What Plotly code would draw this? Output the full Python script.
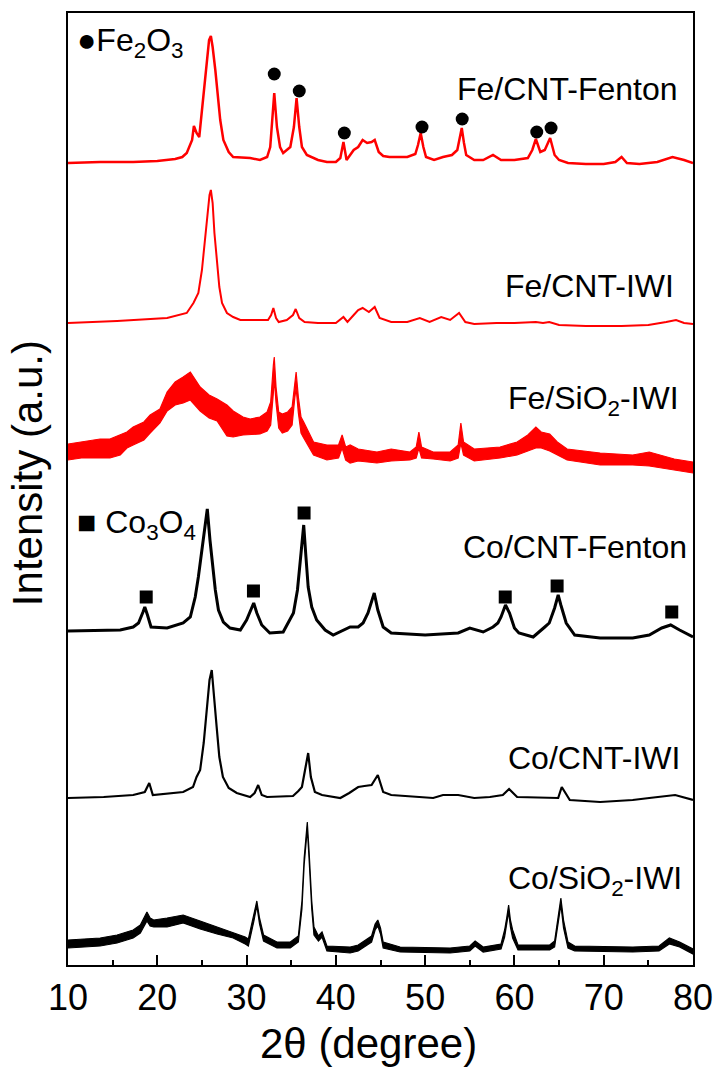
import plotly.graph_objects as go

# ---------------- data (2theta in degree, intensity in a.u., stacked with offsets) -------------
fe_cnt_fenton_x = [10, 13.6, 17.3, 20, 22, 22.8, 23.3, 23.9, 24.1, 24.4, 24.7, 25.0, 25.25, 25.55, 25.8, 26.0, 26.2, 26.5, 26.75, 27.05, 27.4, 28.0, 28.5, 30.4, 31.5, 32.3, 32.65, 32.9, 33.1, 33.4, 33.75, 34.1, 34.9, 35.3, 35.6, 35.9, 36.2, 36.75, 37.5, 38, 39, 40, 40.5, 40.85, 41.2, 41.6, 42, 42.5, 43.0, 43.5, 44.0, 44.35, 44.8, 45.3, 46, 47, 48, 48.9, 49.2, 49.5, 49.8, 50.1, 51, 52, 53, 53.6, 53.85, 54.1, 54.35, 54.6, 55.5, 56.5, 57.6, 58.5, 60, 61.5, 62.0, 62.4, 62.9, 63.4, 64.0, 64.5, 65, 66, 68, 70, 71.3, 72.0, 72.6, 74, 76, 77.7, 79, 80]
fe_cnt_fenton_y = [802, 803, 803, 804, 806, 808, 812, 825, 839, 832, 828, 855, 882, 908, 925, 929, 918, 895, 872, 845, 825, 813, 808, 807, 805, 808, 818, 848, 872, 838, 818, 812, 818, 838, 867, 838, 818, 810, 807, 805, 803, 803, 807, 823, 805, 810, 815, 818, 825, 822, 823, 825, 813, 809, 808, 808, 808, 811, 820, 832, 818, 808, 805, 808, 810, 815, 825, 837, 822, 810, 805, 805, 810, 805, 805, 807, 815, 826, 813, 815, 827, 810, 805, 802, 801, 801, 803, 808, 802, 801, 803, 808, 805, 802]

fe_cnt_iwi_x = [10, 15.5, 21.1, 23.3, 24.05, 24.6, 25.0, 25.35, 25.6, 25.85, 26.0, 26.2, 26.4, 26.7, 26.95, 27.25, 27.8, 28.5, 29.3, 32.4, 32.75, 33.0, 33.3, 33.6, 34.5, 35.2, 35.5, 35.9, 36.5, 38, 40, 40.85, 41.3, 42, 42.5, 43, 43.7, 44.35, 44.9, 46.2, 48, 49.4, 50.5, 51.8, 52.8, 53.8, 54.5, 55.5, 58, 60, 62.4, 63.2, 63.9, 65, 68, 72, 75, 77, 78.1, 79, 80]
fe_cnt_iwi_y = [642, 644, 647, 652, 662, 672, 695, 725, 752, 770, 775, 762, 732, 702, 678, 662, 652, 648, 645, 645, 650, 657, 647, 643, 645, 650, 656, 647, 643, 642, 642, 648, 643, 650, 655, 657, 653, 658, 647, 643, 643, 647, 643, 648, 645, 652, 643, 641, 642, 642, 643, 642, 643, 640, 639, 639, 640, 643, 645, 642, 641]

fe_sio2_iwi_x = [10, 11.5, 13.6, 14.7, 15.85, 16.6, 17.3, 18.5, 19.2, 20.3, 21.1, 22.0, 22.9, 23.7, 24.8, 25.8, 26.7, 27.8, 28.5, 29.6, 30.4, 31.5, 32.3, 32.7, 33.0, 33.1, 33.3, 33.6, 34.0, 34.6, 35.1, 35.4, 35.55, 35.8, 36.1, 36.4, 37.5, 39.0, 40.3, 40.7, 41.1, 41.6, 42.5, 44.6, 46.2, 48.3, 49.0, 49.3, 49.6, 50.9, 52.8, 53.7, 54.0, 54.3, 55.5, 58.4, 60.3, 61.5, 62.4, 63.0, 63.95, 64.8, 65.9, 69.6, 73.25, 75.1, 77.9, 80]
fe_sio2_iwi_upper = [521, 523, 526, 526, 530, 533, 538, 543, 550, 556, 573, 583, 588, 593, 578, 570, 566, 560, 554, 548, 546, 548, 553, 563, 600, 608, 578, 553, 551, 553, 558, 585, 593, 568, 548, 543, 523, 520, 520, 530, 518, 520, 516, 513, 516, 513, 518, 533, 518, 513, 513, 520, 542, 523, 516, 518, 523, 530, 538, 533, 531, 523, 516, 512, 510, 513, 506, 503]
fe_sio2_iwi_lower = [505, 507, 507, 507, 510, 517, 520, 525, 532, 542, 554, 560, 562, 565, 554, 547, 544, 529, 528, 530, 530, 531, 534, 540, 572, 587, 562, 537, 532, 534, 540, 567, 577, 552, 532, 527, 510, 505, 507, 517, 505, 502, 504, 502, 504, 505, 507, 517, 507, 506, 504, 507, 522, 510, 504, 507, 510, 514, 517, 517, 514, 510, 505, 500, 500, 499, 495, 492]

co_cnt_fenton_x = [10, 14, 15.85, 17.3, 17.9, 18.4, 18.6, 18.9, 19.3, 21.1, 22.9, 23.7, 24.25, 24.6, 25.0, 25.3, 25.6, 25.9, 26.2, 26.5, 26.85, 27.4, 28.15, 29.3, 30.0, 30.5, 30.8, 31.15, 31.7, 32.6, 34.1, 35.25, 35.7, 36.1, 36.4, 36.65, 36.9, 37.3, 37.85, 38.8, 39.7, 41.6, 42.5, 43.05, 43.6, 44.3, 44.7, 45.3, 46.2, 50, 53.7, 55, 56.5, 57.6, 58.15, 58.5, 59.0, 59.45, 60.0, 60.5, 62.1, 63.4, 63.9, 64.5, 64.9, 65.2, 65.8, 66.75, 69.6, 73.25, 75.1, 76.5, 77.5, 78.5, 80]
co_cnt_fenton_y = [334, 335, 335, 338, 342, 353, 358, 350, 338, 337, 342, 348, 368, 388, 415, 438, 456, 425, 398, 375, 355, 343, 337, 335, 345, 355, 362, 352, 340, 332, 333, 352, 375, 412, 440, 408, 378, 358, 345, 335, 330, 338, 338, 342, 352, 372, 355, 338, 332, 330, 332, 337, 333, 338, 342, 348, 360, 352, 337, 332, 328, 338, 342, 357, 370, 360, 342, 330, 327, 327, 330, 337, 340, 335, 328]

co_cnt_iwi_x = [10, 14, 17.3, 18.6, 19.1, 19.5, 22.9, 24.0, 24.4, 24.8, 25.2, 25.55, 25.85, 26.1, 26.35, 26.65, 26.95, 27.35, 28.0, 28.9, 30.4, 30.9, 31.3, 31.7, 32.3, 35.2, 35.8, 36.2, 36.55, 36.9, 37.2, 37.65, 38.45, 40.5, 41.5, 42.5, 43.2, 44.0, 44.7, 45.3, 46.2, 50.9, 52.0, 53.7, 55.5, 57.25, 58.7, 59.4, 60.3, 64.9, 65.3, 66.2, 69.6, 73.25, 75.1, 78.0, 80]
co_cnt_iwi_y = [167, 168, 170, 173, 182, 170, 173, 178, 188, 195, 222, 258, 285, 295, 272, 238, 208, 188, 177, 172, 168, 172, 180, 170, 168, 169, 174, 178, 195, 212, 188, 173, 170, 167, 172, 178, 179, 180, 190, 173, 170, 167, 170, 170, 167, 168, 170, 176, 168, 167, 178, 165, 163, 165, 167, 170, 165]

co_sio2_iwi_x = [10, 13.6, 15.5, 17.3, 18.1, 18.5, 18.84, 19.2, 19.6, 21.1, 22.9, 24.8, 26.7, 28.5, 29.85, 30.2, 30.8, 31.15, 31.45, 31.9, 33.4, 34.9, 35.8, 36.2, 36.45, 36.8, 37.0, 37.3, 37.55, 38.05, 38.45, 39.0, 41.6, 42.5, 44.0, 44.4, 44.7, 45.0, 45.3, 47.2, 52.8, 55.0, 55.6, 56.5, 58.5, 58.9, 59.15, 59.35, 59.55, 59.8, 60.4, 63.95, 64.5, 64.85, 65.2, 65.5, 66.0, 66.75, 73.25, 76.2, 77.35, 78.5, 80]
co_sio2_iwi_upper = [25, 27, 30, 35, 40, 47, 53, 47, 45, 47, 50, 44, 38, 33, 28, 26, 49, 64, 47, 30, 23, 23, 29, 64, 107, 143, 114, 64, 38, 29, 33, 19, 18, 20, 29, 41, 45, 37, 23, 18, 17, 19, 24, 18, 21, 35, 48, 60, 45, 35, 20, 20, 24, 48, 67, 45, 23, 19, 18, 19, 27, 23, 16]
co_sio2_iwi_lower = [17, 19, 22, 27, 32, 39, 44, 39, 38, 38, 42, 36, 31, 27, 21, 19, 43, 59, 41, 24, 17, 17, 23, 56, 100, 136, 106, 56, 30, 24, 28, 14, 12, 14, 23, 35, 39, 31, 17, 13, 12, 14, 19, 13, 16, 28, 40, 53, 38, 27, 15, 15, 18, 40, 60, 37, 17, 14, 13, 14, 21, 18, 11]

fe2o3_peak_x = [33.1, 35.9, 40.95, 49.65, 54.15, 62.5, 64.1]
fe2o3_mark_y = [891, 874, 832, 838, 846, 833, 837]
co3o4_peak_x = [18.76, 30.77, 36.44, 58.97, 64.78, 77.62]
co3o4_mark_y = [368, 374, 452, 368, 379, 353]

sample_labels = ["Fe/CNT-Fenton", "Fe/CNT-IWI", "Fe/SiO<sub>2</sub>-IWI",
                 "Co/CNT-Fenton", "Co/CNT-IWI", "Co/SiO<sub>2</sub>-IWI"]

x_ticks = [10, 20, 30, 40, 50, 60, 70, 80]

RED = "#ff0000"
BLACK = "#000000"
FONT = "Arial, Liberation Sans, sans-serif"

fig = go.Figure()


def line(x, y, color, w=2.0):
    fig.add_trace(go.Scatter(x=x, y=y, mode="lines", line=dict(color=color, width=w),
                             showlegend=False, hoverinfo="skip"))


def band(x, upper, lower, color):
    fig.add_trace(go.Scatter(x=x + x[::-1], y=upper + lower[::-1], mode="lines",
                             fill="toself", fillcolor=color,
                             line=dict(color=color, width=1.2),
                             showlegend=False, hoverinfo="skip"))


line(fe_cnt_fenton_x, fe_cnt_fenton_y, RED, 2.5)
line(fe_cnt_iwi_x, fe_cnt_iwi_y, RED, 2.0)
band(fe_sio2_iwi_x, fe_sio2_iwi_upper, fe_sio2_iwi_lower, RED)
line(co_cnt_fenton_x, co_cnt_fenton_y, BLACK, 3.0)
line(co_cnt_iwi_x, co_cnt_iwi_y, BLACK, 2.2)
band(co_sio2_iwi_x, co_sio2_iwi_upper, co_sio2_iwi_lower, BLACK)

fig.add_trace(go.Scatter(x=fe2o3_peak_x, y=fe2o3_mark_y, mode="markers",
                         marker=dict(symbol="circle", size=13, color=BLACK),
                         showlegend=False, hoverinfo="skip"))
fig.add_trace(go.Scatter(x=co3o4_peak_x, y=co3o4_mark_y, mode="markers",
                         marker=dict(symbol="square", size=13, color=BLACK),
                         showlegend=False, hoverinfo="skip"))

label_pos = [(78.5, 876), (78.05, 679), (78.6, 565), (79.55, 418), (78.8, 207), (79.0, 85)]
annotations = []
for text, (lx, ly) in zip(sample_labels, label_pos):
    annotations.append(dict(x=lx, y=ly, xref="x", yref="y", text=text, showarrow=False,
                            xanchor="right", yanchor="middle",
                            font=dict(family=FONT, size=32, color=BLACK)))
annotations.append(dict(x=10.8, y=923, xref="x", yref="y",
                        text="●Fe<sub>2</sub>O<sub>3</sub>", showarrow=False,
                        xanchor="left", yanchor="middle",
                        font=dict(family=FONT, size=32, color=BLACK)))
annotations.append(dict(x=10.8, y=441, xref="x", yref="y",
                        text="■ Co<sub>3</sub>O<sub>4</sub>", showarrow=False,
                        xanchor="left", yanchor="middle",
                        font=dict(family=FONT, size=32, color=BLACK)))
annotations.append(dict(x=-0.0635, y=0.517, xref="paper", yref="paper",
                        text="Intensity (a.u.)", textangle=-90, showarrow=False,
                        xanchor="center", yanchor="middle",
                        font=dict(family=FONT, size=42, color=BLACK)))
annotations.append(dict(x=0.481, y=-0.109, xref="paper", yref="paper",
                        text="2θ (degree)", showarrow=False,
                        xanchor="center", yanchor="bottom",
                        font=dict(family=FONT, size=42, color=BLACK)))

fig.update_layout(
    width=718, height=1070,
    margin=dict(l=68, r=25, t=13, b=105),
    paper_bgcolor="white", plot_bgcolor="white",
    annotations=annotations,
    showlegend=False,
    xaxis=dict(range=[10, 80], tickvals=x_ticks, ticktext=[str(t) for t in x_ticks],
               ticks="inside", ticklen=10, tickwidth=2, tickcolor=BLACK,
               minor=dict(dtick=5, ticks="inside", ticklen=5, tickwidth=2, tickcolor=BLACK),
               showline=True, linewidth=2, linecolor=BLACK, mirror=True,
               showgrid=False, zeroline=False, automargin=False,
               tickfont=dict(family=FONT, size=36, color=BLACK)),
    yaxis=dict(range=[0, 952], showticklabels=False, ticks="",
               showline=True, linewidth=2, linecolor=BLACK, mirror=True,
               showgrid=False, zeroline=False, automargin=False),
)

fig.write_html("out.html")
